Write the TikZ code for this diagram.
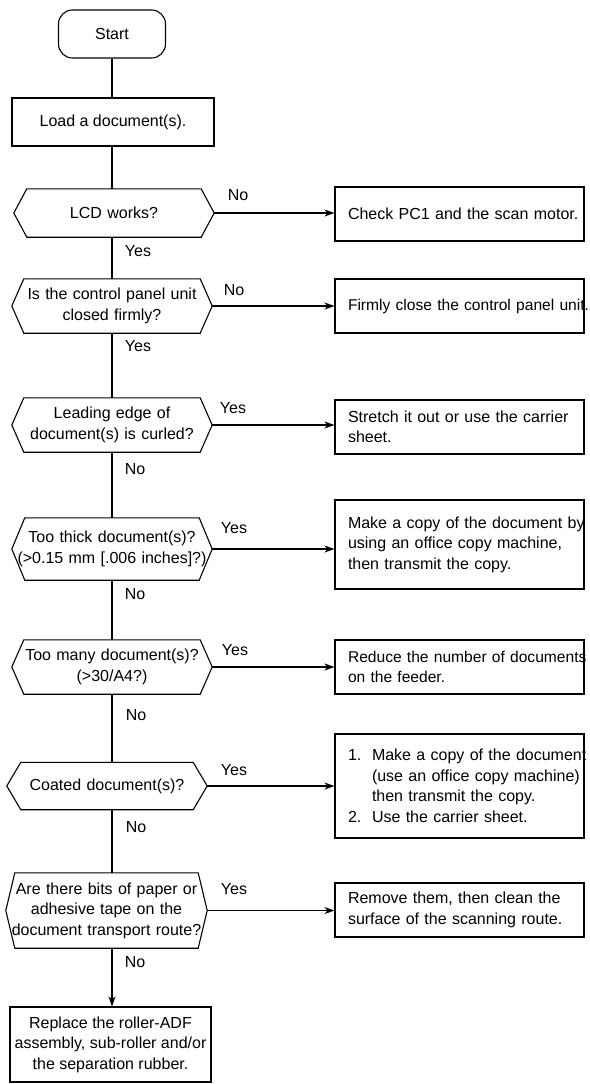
\documentclass[tikz,border=0pt]{standalone}
\usepackage{fontspec}
\setmainfont{Liberation Sans}
\usetikzlibrary{arrows.meta}
\newcommand{\chartfont}{\fontsize{16}{20.5}\selectfont}
\newcommand{\tightfont}{\fontsize{15.6}{20.5}\selectfont}
\newcommand{\hexframe}[2]{\draw[frame] ([xshift=#2]#1.north west) -- ([xshift=-#2]#1.north east) -- (#1.east) -- ([xshift=-#2]#1.south east) -- ([xshift=#2]#1.south west) -- (#1.west) -- cycle;}

\begin{document}
\begin{tikzpicture}[x=1pt,y=-1pt,
  frame/.style={draw, line width=1.1pt},
  link/.style={line width=1.1pt},
  arr/.style={link, -{Stealth[length=10pt,width=7pt,inset=3pt]}},
  term/.style={frame, rounded corners=14pt, minimum width=107pt, minimum height=48pt, inner sep=0pt, font=\chartfont},
  proc/.style={frame, inner sep=0pt, align=center, font=\chartfont},
  sidebox/.style={frame, text width=223pt, inner xsep=13pt, inner ysep=0pt, align=left, font=\chartfont},
  decision/.style={text width=#1, inner sep=0pt, align=center, font=\chartfont},
  lbl/.style={inner sep=0pt, font=\chartfont}]
\useasboundingbox (0,0) rectangle (589,1084);
\coordinate (spine) at (112,0);
\node[term] (start) at (112,34) {Start};
\node[proc, minimum width=202pt, minimum height=48pt] (load) at (113,122) {Load a document(s).};
\node[decision=200pt, minimum height=48pt] (d1) at (114,213) {LCD works?};
\hexframe{d1}{13}
\node[decision=200pt, minimum height=54pt] (d2) at (112,306) {Is the control panel unit\\closed firmly?};
\hexframe{d2}{12}
\node[decision=200pt, minimum height=54pt] (d3) at (112,425) {Leading edge of\\document(s) is curled?};
\hexframe{d3}{12}
\node[decision=200pt, minimum height=62pt] (d4) at (112,549) {Too thick document(s)?\\\mbox{(>0.15 mm [.006 inches]?)}};
\hexframe{d4}{13}
\node[decision=200pt, minimum height=54pt] (d5) at (112,667) {Too many document(s)?\\(>30/A4?)};
\hexframe{d5}{12}
\node[decision=200pt, minimum height=47pt] (d6) at (107,786) {Coated document(s)?};
\hexframe{d6}{14}
\node[decision=201pt, minimum height=75pt] (d7) at (106.5,910.5) {\mbox{Are there bits of paper or}\\adhesive tape on the\\\mbox{document transport route?}};
\hexframe{d7}{9}
\node[proc, minimum width=201pt, minimum height=75pt] (fin) at (110.5,1044.5) {Replace the roller-ADF\\\mbox{assembly, sub-roller and/or}\\the separation rubber.};
\node[sidebox, minimum height=54pt] (b1) at (459.5,214) {\mbox{Check PC1 and the scan motor.}};
\node[sidebox, minimum height=54pt, font=\tightfont] (b2) at (459.5,306) {\mbox{Firmly close the control panel unit.}};
\node[sidebox, minimum height=54pt] (b3) at (459.5,427) {\mbox{Stretch it out or use the carrier}\\sheet.};
\node[sidebox, minimum height=89pt] (b4) at (459.5,544.5) {\mbox{Make a copy of the document by}\\\mbox{using an office copy machine,}\\\mbox{then transmit the copy.}};
\node[sidebox, minimum height=54pt, font=\tightfont] (b5) at (459.5,667) {\mbox{Reduce the number of documents}\\\mbox{on the feeder.}};
\node[sidebox, minimum height=104pt] (b6) at (459.5,786) {\mbox{\makebox[24pt][l]{1.}Make a copy of the document}\\\mbox{\hspace*{24pt}(use an office copy machine)}\\\mbox{\hspace*{24pt}then transmit the copy.}\\\mbox{\makebox[24pt][l]{2.}Use the carrier sheet.}};
\node[sidebox, minimum height=54pt] (b7) at (459.5,910) {\mbox{Remove them, then clean the}\\\mbox{surface of the scanning route.}};
\draw[link] (start.south -| spine) -- (load.north -| spine);
\draw[link] (load.south -| spine) -- (d1.north -| spine);
\draw[link] (d1.south -| spine) -- (d2.north -| spine);
\draw[link] (d2.south -| spine) -- (d3.north -| spine);
\draw[link] (d3.south -| spine) -- (d4.north -| spine);
\draw[link] (d4.south -| spine) -- (d5.north -| spine);
\draw[link] (d5.south -| spine) -- (d6.north -| spine);
\draw[link] (d6.south -| spine) -- (d7.north -| spine);
\draw[arr] (d7.south -| spine) -- (fin.north -| spine);
\draw[arr] (d1.east) -- (d1.east -| b1.west);
\draw[arr] (d2.east) -- (d2.east -| b2.west);
\draw[arr] (d3.east) -- (d3.east -| b3.west);
\draw[arr] (d4.east) -- (d4.east -| b4.west);
\draw[arr] (d5.east) -- (d5.east -| b5.west);
\draw[arr] (d6.east) -- (d6.east -| b6.west);
\draw[arr] (d7.east) -- (d7.east -| b7.west);
\node[lbl] (n1) at (238,195) {No};
\node[lbl] (y1) at (138,251) {Yes};
\node[lbl] (n2) at (234,290) {No};
\node[lbl] (y2) at (138,346) {Yes};
\node[lbl] (y3) at (233,408) {Yes};
\node[lbl] (n3) at (135,469) {No};
\node[lbl] (y4) at (234,528) {Yes};
\node[lbl] (n4) at (135,594) {No};
\node[lbl] (y5) at (235,650) {Yes};
\node[lbl] (n5) at (136,715) {No};
\node[lbl] (y6) at (234,770) {Yes};
\node[lbl] (n6) at (136,827) {No};
\node[lbl] (y7) at (234,889) {Yes};
\node[lbl] (n7) at (135,962) {No};
\end{tikzpicture}
\end{document}
